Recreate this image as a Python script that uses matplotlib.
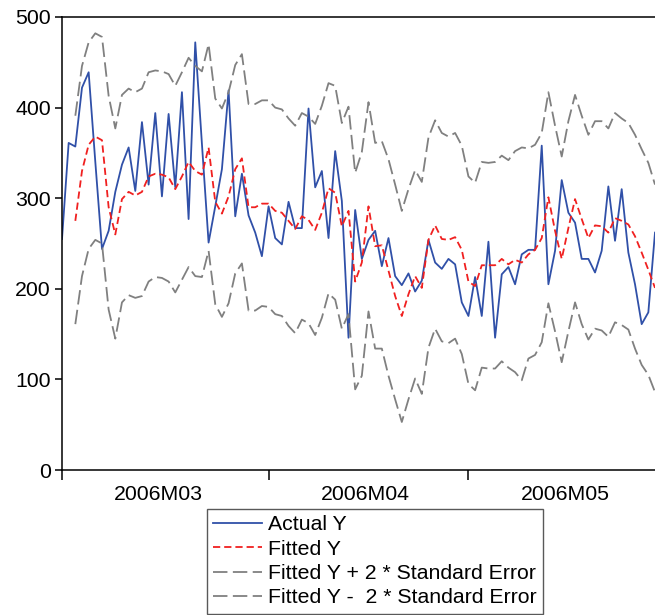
import numpy as np
import pandas as pd
import matplotlib
matplotlib.use('Agg')
import matplotlib.pyplot as plt

plt.rcParams['font.family'] = ['Liberation Sans', 'DejaVu Sans']

nan = np.nan
dates = pd.date_range('2006-03-01', periods=90, freq='D')

actual = [255, 361, 357, 422, 439, 340, 244, 264, 307, 337,
          356, 308, 384, 315, 394, 302, 393, 312, 417, 277,
          472, 360, 251, 291, 332, 419, 280, 327, 281, 262,
          236, 291, 256, 249, 296, 267, 267, 399, 312, 330,
          256, 352, 297, 146, 287, 233, 254, 264, 225, 256,
          214, 204, 217, 197, 209, 254, 229, 222, 233, 227,
          185, 170, 213, 170, 252, 146, 216, 224, 205, 238,
          243, 243, 358, 205, 242, 320, 284, 273, 233, 233,
          218, 242, 313, 253, 310, 240, 205, 161, 174, 262]

fitted = [nan, nan, 275, 330, 359, 368, 364, 290, 260, 299,
          307, 303, 307, 324, 327, 326, 323, 310, 324, 340,
          330, 326, 356, 296, 283, 302, 332, 344, 290, 290,
          294, 294, 286, 284, 275, 266, 280, 276, 265, 284,
          311, 306, 269, 286, 208, 229, 291, 247, 248, 220,
          192, 170, 194, 214, 201, 254, 270, 255, 254, 257,
          243, 208, 203, 226, 226, 226, 233, 227, 232, 229,
          238, 243, 256, 301, 264, 233, 267, 299, 277, 256,
          270, 269, 262, 278, 275, 271, 258, 240, 221, 201]

upper = [nan, nan, 391, 446, 472, 482, 478, 413, 377, 414,
         421, 417, 421, 439, 441, 440, 437, 424, 439, 455,
         446, 440, 470, 410, 399, 417, 447, 459, 404, 404,
         408, 408, 400, 398, 388, 380, 394, 390, 382, 402,
         427, 424, 383, 401, 328, 351, 406, 361, 363, 343,
         315, 286, 310, 331, 318, 367, 386, 372, 368, 372,
         358, 324, 317, 340, 339, 340, 347, 342, 352, 356,
         355, 359, 372, 417, 380, 346, 385, 414, 391, 370,
         385, 385, 377, 394, 388, 383, 370, 354, 339, 315]

lower = [nan, nan, 161, 214, 244, 254, 250, 177, 145, 185,
         193, 190, 192, 208, 213, 212, 208, 196, 210, 224,
         214, 213, 242, 183, 169, 184, 217, 228, 176, 176,
         181, 180, 172, 170, 159, 151, 166, 162, 149, 168,
         195, 188, 156, 172, 89, 104, 175, 134, 134, 104,
         78, 53, 78, 101, 84, 135, 156, 142, 140, 145,
         128, 95, 88, 113, 112, 112, 120, 113, 108, 99,
         123, 127, 141, 184, 153, 119, 153, 185, 161, 144,
         156, 154, 147, 163, 160, 155, 134, 116, 105, 86]

month_starts = pd.to_datetime(['2006-03-01', '2006-04-01', '2006-05-01'])
month_labels = ['2006M03', '2006M04', '2006M05']
yticks = [0, 100, 200, 300, 400, 500]

W, H = 655, 615
fig = plt.figure(figsize=(W / 100, H / 100), dpi=100)
ax = fig.add_axes([62 / W, 145 / H, 593 / W, 453 / H])

blue = '#3050A8'
red = '#F02020'
gray = '#808080'

l1, = ax.plot(dates, actual, color=blue, lw=1.3, label='Actual Y')
l2, = ax.plot(dates, fitted, color=red, lw=1.3, dashes=(4, 2.2), label='Fitted Y')
l3, = ax.plot(dates, upper, color=gray, lw=1.3, dashes=(8, 3),
              label='Fitted Y + 2 * Standard Error')
l4, = ax.plot(dates, lower, color=gray, lw=1.3, dashes=(8, 3),
              label='Fitted Y -  2 * Standard Error')

ax.set_xlim(dates[0], dates[-1])
ax.set_ylim(0, 500)
ax.set_yticks(yticks)
ax.set_yticklabels([str(v) for v in yticks])

ax.set_xticks(month_starts)
ax.set_xticklabels(['', '', ''])
ax.set_xticks(month_starts + pd.Timedelta(hours=348), minor=True)
ax.set_xticklabels(month_labels, minor=True)

ax.tick_params(axis='y', direction='out', length=5, width=1.1, labelsize=15.3, pad=3)
ax.tick_params(axis='x', which='major', direction='out', length=7.5, width=1.1)
ax.tick_params(axis='x', which='minor', length=0, labelsize=15.3, pad=11)

for s in ['left', 'bottom', 'top']:
    ax.spines[s].set_linewidth(1.1)
ax.spines['right'].set_visible(False)

leg = fig.legend(handles=[l1, l2, l3, l4], loc='upper left',
                 bbox_to_anchor=(207 / W, 1 - 509 / H), bbox_transform=fig.transFigure,
                 frameon=True, fancybox=False, fontsize=15.3, handlelength=2.3,
                 handletextpad=0.25, labelspacing=0.25, borderpad=0.3, borderaxespad=0)
leg.get_frame().set_edgecolor('#303030')
leg.get_frame().set_linewidth(1.0)

fig.savefig('out.png', dpi=100)
